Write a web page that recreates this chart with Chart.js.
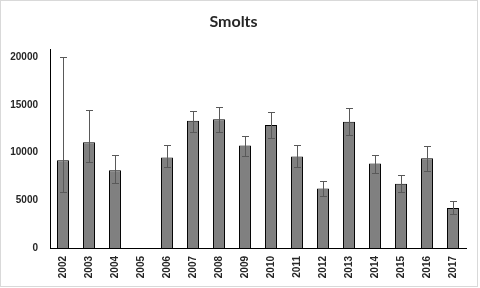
<!DOCTYPE html>
<html>
<head>
<meta charset="utf-8">
<script src="https://cdn.jsdelivr.net/npm/chart.js@4/dist/chart.umd.min.js"></script>
<style>
html,body{margin:0;padding:0;background:#fff;}
#wrap{width:476px;height:285px;border:1px solid #d9d9d9;position:relative;}
canvas{display:block;}
</style>
</head>
<body>
<div id="wrap"><canvas id="c" width="476" height="285"></canvas></div>
<script>
const years = ["2002","2003","2004","2005","2006","2007","2008","2009","2010","2011","2012","2013","2014","2015","2016","2017"];
const smolts = [9200,11100,8150,null,9500,13350,13500,10750,12900,9600,6250,13250,8850,6750,9400,4200];
const errLow = [5900,9000,6850,null,8500,12200,12200,9650,11500,8450,5450,11800,7900,5900,8100,3550];
const errHigh = [20000,14450,9800,null,10800,14400,14800,11700,14250,10850,7050,14700,9800,7700,10650,4900];
const yTicks = [0,5000,10000,15000,20000];

const errorBars = {
  id: 'errorBars',
  afterDatasetsDraw(chart) {
    const ctx = chart.ctx;
    const meta = chart.getDatasetMeta(0);
    const y = chart.scales.y;
    ctx.save();
    ctx.strokeStyle = '#595959';
    ctx.lineWidth = 1;
    meta.data.forEach((bar, i) => {
      if (errLow[i] == null || errHigh[i] == null) return;
      const x = Math.round(bar.x) + 0.5;
      const yl = Math.round(y.getPixelForValue(errLow[i])) + 0.5;
      const yh = Math.round(y.getPixelForValue(errHigh[i])) + 0.5;
      ctx.beginPath();
      ctx.moveTo(x, yl); ctx.lineTo(x, yh);
      ctx.moveTo(x - 3.5, yl); ctx.lineTo(x + 3.5, yl);
      ctx.moveTo(x - 3.5, yh); ctx.lineTo(x + 3.5, yh);
      ctx.stroke();
    });
    ctx.restore();
  }
};

new Chart(document.getElementById('c'), {
  type: 'bar',
  data: {
    labels: years,
    datasets: [{
      data: smolts,
      backgroundColor: '#808080',
      borderColor: '#000000',
      borderWidth: 1,
      categoryPercentage: 1,
      barPercentage: 0.46
    }]
  },
  options: {
    responsive: false,
    animation: false,
    devicePixelRatio: 1,
    layout: { padding: { left: 0, right: 11, top: 0, bottom: 0 } },
    plugins: {
      legend: { display: false },
      tooltip: { enabled: false },
      title: {
        display: true,
        text: 'Smolts',
        color: '#262626',
        font: { family: 'Lato', size: 16, weight: 'bold' },
        padding: { top: 11, bottom: 18 }
      }
    },
    scales: {
      x: {
        grid: { display: false, drawTicks: false },
        border: { display: true, color: '#000000', width: 1 },
        ticks: {
          minRotation: 90, maxRotation: 90, autoSkip: false,
          padding: 8,
          color: '#262626',
          font: { family: 'Liberation Sans', size: 10, weight: 'bold' }
        },
        afterFit(s) { s.height = 38; }
      },
      y: {
        min: 0, max: 20850,
        grid: { display: false, drawTicks: false },
        border: { display: true, color: '#000000', width: 1 },
        afterBuildTicks(s) { s.ticks = yTicks.map(v => ({ value: v })); },
        ticks: {
          padding: 12,
          color: '#262626',
          callback: (v) => String(v),
          font: { family: 'Liberation Sans', size: 10, weight: 'bold' }
        },
        afterFit(s) { s.width = 49; }
      }
    }
  },
  plugins: [errorBars]
});
</script>
</body>
</html>
